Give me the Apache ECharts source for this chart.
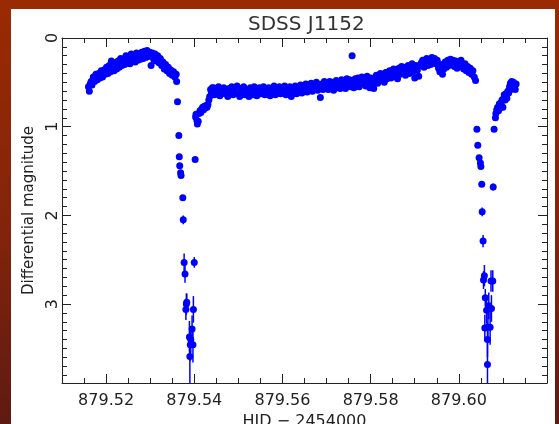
<!DOCTYPE html>
<html>
<head>
<meta charset="utf-8">
<script src="https://cdn.jsdelivr.net/npm/echarts@6/dist/echarts.min.js"></script>
<style>
html,body{margin:0;padding:0;}
body{width:559px;height:424px;overflow:hidden;position:relative;
background:linear-gradient(180deg,#9a2a02 0%,#82240a 55%,#5e1a12 100%);}
#panel{position:absolute;left:11px;top:9px;width:544px;height:415px;background:#ffffff;}
#chart{position:absolute;left:0;top:0;width:559px;height:424px;}
</style>
</head>
<body>
<div id="panel"></div>
<div id="chart"></div>
<script>
// Tick labels
const xMajorTicks = [879.52, 879.54, 879.56, 879.58, 879.60];
const yMajorTicks = [0, 1, 2, 3];

// Out-of-eclipse photometry [HJD-2454000, differential magnitude]
const preEclipse1 = [[879.5160,0.55],[879.5162,0.60],[879.5164,0.52],[879.5166,0.49],[879.5168,0.53],[879.5171,0.44],[879.5174,0.49],[879.5177,0.41],[879.5180,0.47],[879.5183,0.40],[879.5186,0.45],[879.5189,0.37],[879.5192,0.44],[879.5195,0.36],[879.5198,0.41],[879.5201,0.33],[879.5204,0.40],[879.5207,0.31],[879.5210,0.38],[879.5212,0.26],[879.5215,0.33],[879.5218,0.37],[879.5221,0.28],[879.5224,0.35],[879.5227,0.26],[879.5230,0.33],[879.5233,0.23],[879.5236,0.31],[879.5239,0.24],[879.5242,0.30],[879.5245,0.20],[879.5248,0.28],[879.5251,0.22],[879.5254,0.29],[879.5257,0.18],[879.5260,0.26],[879.5263,0.20],[879.5266,0.27],[879.5269,0.17],[879.5272,0.25],[879.5275,0.19],[879.5278,0.24],[879.5281,0.16],[879.5284,0.23],[879.5287,0.15],[879.5290,0.22],[879.5293,0.14],[879.5296,0.21],[879.5299,0.16],[879.5302,0.31],[879.5305,0.17],[879.5308,0.24],[879.5311,0.18],[879.5314,0.26],[879.5317,0.20],[879.5320,0.28],[879.5323,0.23],[879.5326,0.31],[879.5329,0.27],[879.5332,0.35],[879.5335,0.30],[879.5338,0.37],[879.5341,0.33],[879.5344,0.40],[879.5347,0.36],[879.5350,0.42],[879.5353,0.38],[879.5356,0.44],[879.5359,0.41],[879.5360,0.49]];

const betweenEclipses = [[879.5403,0.89],[879.5404,0.86],[879.5406,0.93],[879.5407,0.97],[879.5409,0.94],[879.5411,0.85],[879.5413,0.82],[879.5415,0.84],[879.5417,0.80],[879.5419,0.78],[879.5421,0.81],[879.5423,0.77],[879.5425,0.79],[879.5427,0.76],[879.5429,0.78],[879.5431,0.75],[879.5433,0.70],[879.5435,0.66],[879.5437,0.58],[879.5439,0.62],[879.5441,0.56],
[879.5443,0.56],[879.5446,0.64],[879.5449,0.57],[879.5452,0.61],[879.5455,0.55],[879.5458,0.65],[879.5461,0.59],[879.5464,0.62],[879.5467,0.56],[879.5470,0.63],[879.5473,0.58],[879.5476,0.66],[879.5479,0.57],[879.5482,0.61],[879.5485,0.55],[879.5488,0.64],[879.5491,0.59],[879.5494,0.62],[879.5497,0.54],[879.5500,0.63],[879.5503,0.66],[879.5506,0.57],[879.5509,0.60],[879.5512,0.55],[879.5515,0.64],[879.5518,0.58],[879.5521,0.62],[879.5524,0.66],[879.5527,0.56],[879.5530,0.61],[879.5533,0.64],[879.5536,0.55],[879.5539,0.59],[879.5542,0.65],[879.5545,0.58],[879.5548,0.56],[879.5551,0.63],[879.5554,0.60],[879.5557,0.55],[879.5560,0.64],[879.5563,0.58],[879.5566,0.62],[879.5569,0.56],[879.5572,0.65],[879.5575,0.57],[879.5578,0.61],[879.5581,0.54],[879.5584,0.64],[879.5587,0.59],[879.5590,0.62],[879.5593,0.55],[879.5596,0.63],[879.5599,0.58],[879.5602,0.61],[879.5605,0.54],[879.5608,0.64],[879.5611,0.57],[879.5614,0.62],[879.5617,0.55],[879.5620,0.66],[879.5623,0.58],[879.5626,0.61],[879.5629,0.54],[879.5632,0.63],[879.5635,0.57],[879.5638,0.60],[879.5641,0.53],[879.5644,0.62],[879.5647,0.56],[879.5650,0.59],[879.5653,0.52],[879.5656,0.61],[879.5659,0.55],[879.5662,0.58],[879.5665,0.51],[879.5668,0.60],[879.5671,0.54],[879.5674,0.57],[879.5677,0.50],[879.5680,0.59],[879.5683,0.53],[879.5686,0.67],[879.5689,0.52],[879.5692,0.58],[879.5695,0.49],[879.5698,0.56],[879.5701,0.51],
[879.5704,0.58],[879.5707,0.49],[879.5710,0.55],[879.5713,0.50],[879.5716,0.59],[879.5719,0.52],[879.5722,0.48],[879.5725,0.56],[879.5728,0.50],[879.5731,0.57],[879.5734,0.47],[879.5737,0.54],[879.5740,0.49],[879.5743,0.57],[879.5746,0.46],[879.5749,0.53],[879.5752,0.47],[879.5755,0.55],[879.5758,0.20],[879.5759,0.49],[879.5762,0.56],[879.5765,0.46],[879.5768,0.52],[879.5771,0.45],[879.5774,0.55],[879.5777,0.48],[879.5780,0.44],[879.5783,0.52],[879.5786,0.45],[879.5789,0.54],[879.5792,0.43],[879.5795,0.50],[879.5798,0.56],[879.5801,0.45],[879.5804,0.51],[879.5807,0.57],[879.5810,0.46],[879.5813,0.42],[879.5816,0.51],[879.5819,0.44],[879.5822,0.40],[879.5825,0.48],[879.5828,0.42],[879.5831,0.50],[879.5834,0.39],[879.5837,0.46],[879.5840,0.41],[879.5843,0.37],[879.5846,0.45],[879.5849,0.38],[879.5852,0.35],[879.5855,0.43],[879.5858,0.37],[879.5861,0.46],[879.5864,0.34],[879.5867,0.41],[879.5870,0.32],[879.5873,0.39],[879.5876,0.33],[879.5879,0.42],[879.5882,0.35],[879.5885,0.31],[879.5888,0.40],[879.5891,0.33],[879.5894,0.29],[879.5897,0.38],[879.5900,0.45],[879.5903,0.31],[879.5906,0.36],[879.5909,0.43],[879.5912,0.31],[879.5915,0.28],[879.5918,0.25],[879.5921,0.33],[879.5924,0.26],[879.5927,0.23],[879.5930,0.31],[879.5933,0.24],[879.5936,0.30],[879.5939,0.22],[879.5942,0.28],[879.5945,0.23],[879.5948,0.29],[879.5951,0.25],[879.5954,0.34],[879.5957,0.38],[879.5960,0.30],[879.5963,0.41],[879.5966,0.35],[879.5969,0.27],[879.5972,0.33],[879.5975,0.25],[879.5978,0.31],[879.5981,0.24],[879.5984,0.30],[879.5987,0.25],[879.5990,0.32],[879.5993,0.26],[879.5996,0.34],[879.5999,0.27],[879.6002,0.32],[879.6005,0.25],[879.6008,0.31],[879.6011,0.35],[879.6014,0.29],[879.6017,0.37],[879.6020,0.32],[879.6023,0.39],[879.6026,0.34],[879.6029,0.41],[879.6032,0.37],[879.6035,0.44],[879.6038,0.48]];

const postEclipse2 = [[879.6083,0.90],[879.6084,0.85],[879.6086,0.81],[879.6088,0.78],[879.6090,0.82],[879.6092,0.74],[879.6094,0.79],[879.6096,0.73],[879.6098,0.70],[879.6100,0.78],[879.6102,0.68],[879.6103,0.64],[879.6105,0.70],[879.6107,0.63],[879.6109,0.68],[879.6111,0.60],[879.6113,0.62],[879.6115,0.55],[879.6117,0.51],[879.6118,0.58],[879.6120,0.49],[879.6122,0.56],[879.6124,0.50],[879.6126,0.54],[879.6128,0.58],[879.6130,0.52]];

// Eclipse photometry [HJD-2454000, magnitude, error]
const eclipse1 = [[879.5362,0.72,0.02],[879.5365,1.10,0.02],[879.5366,1.34,0.02],[879.5367,1.44,0.02],[879.5369,1.52,0.02],[879.5370,1.55,0.03],[879.5374,1.80,0.03],[879.5375,2.05,0.05],[879.5377,2.53,0.10],[879.5379,2.66,0.10],[879.5382,3.00,0.12],[879.5381,3.06,0.12],[879.5383,2.98,0.10],[879.5389,3.37,0.18],[879.5390,3.59,0.30],[879.5391,3.46,0.18],[879.5392,3.40,0.15],[879.5395,3.28,0.15],[879.5397,3.46,0.20],[879.5398,3.06,0.15],[879.5400,2.53,0.06],[879.5402,1.37,0.02]];
const eclipse2 = [[879.6041,1.03,0.02],[879.6043,1.21,0.02],[879.6046,1.35,0.02],[879.6049,1.41,0.02],[879.6050,1.45,0.02],[879.6052,1.65,0.03],[879.6053,1.96,0.05],[879.6055,2.29,0.07],[879.6056,2.73,0.10],[879.6058,2.68,0.12],[879.6060,2.93,0.10],[879.6059,3.27,0.15],[879.6063,3.07,0.15],[879.6065,3.40,0.20],[879.6065,3.68,0.30],[879.6066,3.26,0.18],[879.6071,3.26,0.20],[879.6068,3.02,0.15],[879.6074,3.05,0.15],[879.6073,2.74,0.12],[879.6077,2.74,0.12],[879.6078,1.68,0.04],[879.6080,1.03,0.02]];

const X_MIN = 879.51, X_MAX = 879.62, Y_MIN = 0, Y_MAX = 3.89;
const xMinor = [], yMinor = [];
for (let i = 0; i <= 22; i++) { const v = +(X_MIN + i * 0.005).toFixed(3); if (xMajorTicks.indexOf(v) < 0) xMinor.push(v); }
for (let i = 1; i <= 38; i++) { if (i % 10 !== 0) yMinor.push(+(i * 0.1).toFixed(1)); }

const FONT = 'DejaVu Sans';
const AX = '#222';
function xAx(pos, major, labels) {
  return {
    type: 'value', position: pos, min: X_MIN, max: X_MAX,
    axisLine: { show: major, onZero: false, lineStyle: { color: AX, width: 1 } },
    axisTick: { show: true, inside: true, length: major ? 9 : 5, customValues: major ? xMajorTicks : xMinor, lineStyle: { color: AX } },
    axisLabel: labels ? { show: true, customValues: xMajorTicks, formatter: v => v.toFixed(2), fontFamily: FONT, fontSize: 16, color: '#222', margin: 10 } : { show: false },
    splitLine: { show: false },
    name: labels ? 'HJD \u2212 2454000' : '', nameLocation: 'middle', nameGap: 31,
    nameTextStyle: { fontFamily: FONT, fontSize: 16, color: '#222' }
  };
}
function yAx(pos, major, labels) {
  return {
    type: 'value', position: pos, min: Y_MIN, max: Y_MAX, inverse: true,
    axisLine: { show: major, onZero: false, lineStyle: { color: AX, width: 1 } },
    axisTick: { show: true, inside: true, length: major ? 9 : 5, customValues: major ? yMajorTicks : yMinor, lineStyle: { color: AX } },
    axisLabel: labels ? { show: true, customValues: yMajorTicks, rotate: 90, formatter: v => String(v), fontFamily: FONT, fontSize: 16, color: '#222', margin: 1 } : { show: false },
    splitLine: { show: false },
    name: labels ? 'Differential magnitude' : '', nameLocation: 'middle', nameGap: 25, nameRotate: 90,
    nameTextStyle: { fontFamily: FONT, fontSize: 15, color: '#222' }
  };
}

const chart = echarts.init(document.getElementById('chart'), null, { renderer: 'canvas' });
const BLUE = '#0000ff';
const errRender = function (params, api) {
  const x = api.value(0), y = api.value(1), e = api.value(2);
  const p1 = api.coord([x, y - e]), p2 = api.coord([x, y + e]);
  return { type: 'line', shape: { x1: p1[0], y1: p1[1], x2: p2[0], y2: p2[1] }, style: { stroke: BLUE, lineWidth: 1.5 } };
};
chart.setOption({
  backgroundColor: 'transparent',
  animation: false,
  title: { text: 'SDSS J1152', left: 243, top: 10, textStyle: { fontFamily: FONT, fontSize: 20, fontWeight: 'normal', color: '#333' } },
  grid: { left: 62, top: 38, width: 485, height: 345, containLabel: false, outerBoundsMode: 'none' },
  xAxis: [xAx('bottom', true, true), xAx('bottom', false, false), xAx('top', true, false), xAx('top', false, false)],
  yAxis: [yAx('left', true, true), yAx('left', false, false), yAx('right', true, false), yAx('right', false, false)],
  series: [
    { type: 'custom', renderItem: errRender, data: eclipse1.concat(eclipse2), encode: { x: 0, y: 1 }, clip: true, xAxisIndex: 0, yAxisIndex: 0, silent: true },
    { type: 'scatter', data: preEclipse1.concat(betweenEclipses, postEclipse2), symbol: 'circle', symbolSize: 7, itemStyle: { color: BLUE, opacity: 1 }, xAxisIndex: 0, yAxisIndex: 0 },
    { type: 'scatter', data: eclipse1.concat(eclipse2).map(d => [d[0], d[1]]), symbol: 'circle', symbolSize: 7, itemStyle: { color: BLUE, opacity: 1 }, xAxisIndex: 0, yAxisIndex: 0 }
  ]
});
</script>
</body>
</html>
